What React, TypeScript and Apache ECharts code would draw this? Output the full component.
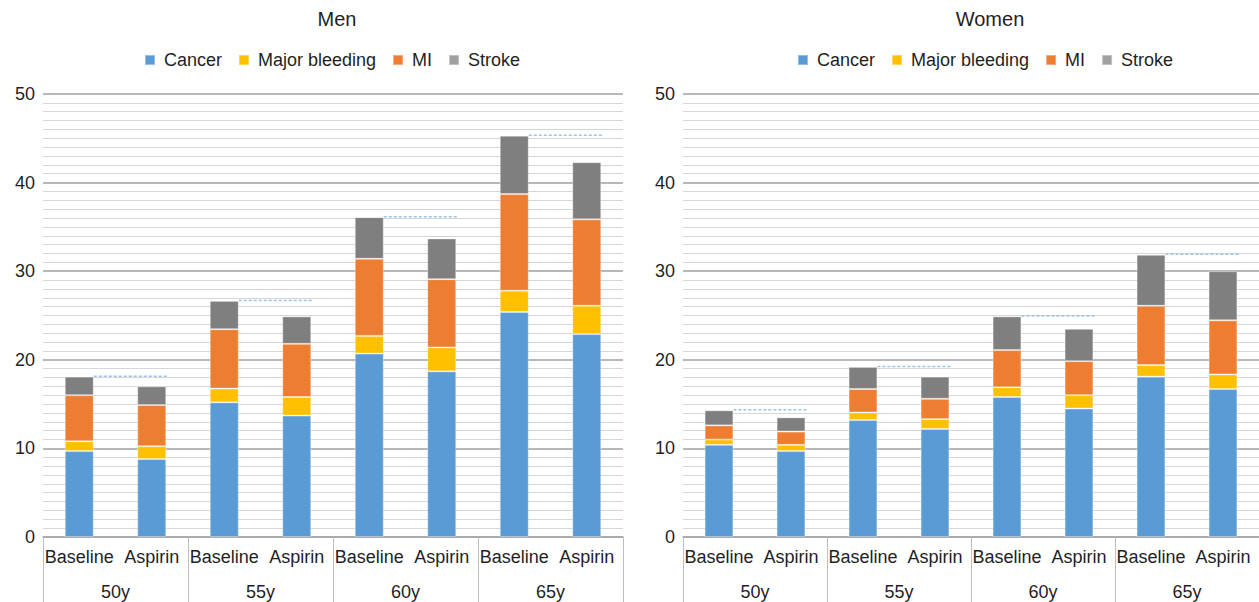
import React, { useEffect, useRef } from "react";
import * as echarts from "echarts";

const categories = ["Baseline", "Aspirin", "Baseline", "Aspirin", "Baseline", "Aspirin", "Baseline", "Aspirin"];
const ageGroups = ["50y", "55y", "60y", "65y"];
const seriesNames = ["Cancer", "Major bleeding", "MI", "Stroke"];
const seriesColors = ["#5b9bd5", "#ffc000", "#ed7d31", "#7f7f7f"];
const legendColors = ["#5b9bd5", "#ffc000", "#ed7d31", "#a0a0a0"];
const yTicks = [0, 10, 20, 30, 40, 50];

const menCancer = [9.7, 8.8, 15.2, 13.7, 20.7, 18.7, 25.4, 22.9];
const menBleeding = [1.1, 1.45, 1.55, 2.1, 2.0, 2.7, 2.4, 3.2];
const menMI = [5.2, 4.65, 6.7, 6.0, 8.7, 7.7, 10.9, 9.75];
const menStroke = [2.1, 2.1, 3.2, 3.1, 4.7, 4.6, 6.6, 6.45];

const womenCancer = [10.4, 9.7, 13.2, 12.2, 15.8, 14.5, 18.1, 16.7];
const womenBleeding = [0.6, 0.7, 0.85, 1.1, 1.1, 1.5, 1.3, 1.65];
const womenMI = [1.6, 1.5, 2.65, 2.3, 4.2, 3.85, 6.7, 6.1];
const womenStroke = [1.7, 1.6, 2.5, 2.5, 3.8, 3.65, 5.75, 5.55];

const FONT = "Liberation Sans";
const TEXT = "#1f1f1f";

function buildPanel(idx: number, left: number, data: number[][]) {
  const grid = { left, top: 94, width: 580, height: 443, containLabel: false };
  const xAxes = [
    {
      type: "category",
      gridIndex: idx,
      data: categories,
      position: "bottom",
      axisLine: { show: true, lineStyle: { color: "#a6a6a6", width: 1.5 } },
      axisTick: { show: false },
      axisLabel: { interval: 0, margin: 11, fontSize: 18, color: TEXT, fontFamily: FONT },
    },
    {
      type: "category",
      gridIndex: idx,
      data: ageGroups,
      position: "bottom",
      offset: 0,
      axisLine: { show: false },
      axisTick: { show: true, length: 66, interval: 0, lineStyle: { color: "#bfbfbf", width: 1 } },
      axisLabel: { interval: 0, margin: 46, fontSize: 18, color: TEXT, fontFamily: FONT },
    },
  ];
  const yAxis = {
    type: "value",
    gridIndex: idx,
    min: yTicks[0],
    max: yTicks[yTicks.length - 1],
    interval: 10,
    axisLine: { show: false },
    axisTick: { show: false },
    axisLabel: { margin: 8, fontSize: 18, color: TEXT, fontFamily: FONT },
    splitLine: { show: true, lineStyle: { color: "#a0a0a0", width: 1.5 } },
    minorTick: { show: false, splitNumber: 10 },
    minorSplitLine: { show: true, lineStyle: { color: "#d6d6d6", width: 1 } },
  };
  const bars = seriesNames.map((name, i) => ({
    name,
    type: "bar",
    stack: "total" + idx,
    xAxisIndex: idx * 2,
    yAxisIndex: idx,
    barWidth: "40%",
    itemStyle: { color: seriesColors[i], borderColor: "rgba(255,255,255,0.35)", borderWidth: 1 },
    data: data[i],
  }));
  const totals = categories.map((_, k) => data.reduce((s, arr) => s + arr[k], 0));
  const lineData = ageGroups.map((_, g) => [g * 2, g * 2 + 1, totals[g * 2]]);
  const dashed = {
    type: "custom",
    xAxisIndex: idx * 2,
    yAxisIndex: idx,
    silent: true,
    z: 5,
    encode: { x: [0, 1], y: 2 },
    data: lineData,
    renderItem: (params: any, api: any) => {
      const v = api.value(2);
      const p1 = api.coord([api.value(0), v]);
      const p2 = api.coord([api.value(1), v]);
      const band = api.size([1, 0])[0];
      const half = band * 0.2;
      return {
        type: "line",
        shape: { x1: p1[0] + half, y1: p1[1] - 0.5, x2: p2[0] + half + 2, y2: p2[1] - 0.5 },
        style: { stroke: "#9dc3e6", lineWidth: 1.5, lineDash: [3, 2] },
      };
    },
  };
  return { grid, xAxes, yAxis, series: [...bars, dashed] };
}

export default function App() {
  const ref = useRef<HTMLDivElement>(null);
  useEffect(() => {
    document.body.style.margin = "0";
    if (!ref.current) return;
    const chart = echarts.init(ref.current, undefined, { renderer: "svg" });
    const men = buildPanel(0, 43, [menCancer, menBleeding, menMI, menStroke]);
    const women = buildPanel(1, 683, [womenCancer, womenBleeding, womenMI, womenStroke]);
    const legendData = seriesNames.map((n, i) => ({ name: n, itemStyle: { color: legendColors[i] } }));
    const legendBase = {
      top: 51,
      padding: 0,
      itemWidth: 10,
      itemHeight: 10,
      itemGap: 16,
      icon: "rect",
      textStyle: { fontSize: 18, color: TEXT, fontFamily: FONT, padding: [0, 0, 0, 4] },
      data: legendData,
    };
    chart.setOption({
      animation: false,
      backgroundColor: "#ffffff",
      textStyle: { fontFamily: FONT },
      title: [
        { text: "Men", left: 332, top: 4, textAlign: "center", textStyle: { fontSize: 20, fontWeight: "normal", color: TEXT, fontFamily: FONT } },
        { text: "Women", left: 985, top: 4, textAlign: "center", textStyle: { fontSize: 20, fontWeight: "normal", color: TEXT, fontFamily: FONT } },
      ],
      legend: [
        { ...legendBase, left: 144 },
        { ...legendBase, left: 797 },
      ],
      grid: [men.grid, women.grid],
      xAxis: [...men.xAxes, ...women.xAxes],
      yAxis: [men.yAxis, women.yAxis],
      series: [...men.series, ...women.series],
    });
    return () => chart.dispose();
  }, []);
  return <div ref={ref} style={{ width: 1259, height: 602 }} />;
}
